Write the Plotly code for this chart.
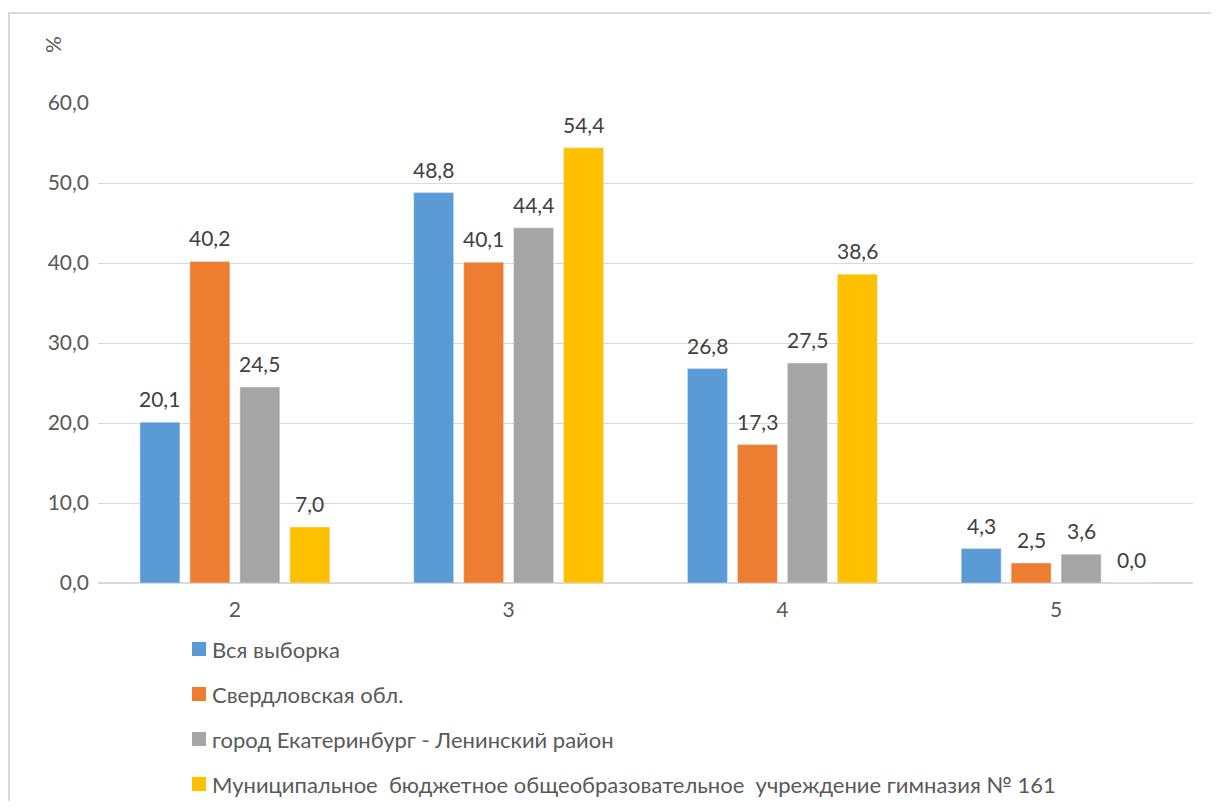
import plotly.graph_objects as go

categories = ["2", "3", "4", "5"]
series_names = [
    "Вся выборка",
    "Свердловская обл.",
    "город Екатеринбург - Ленинский район",
    "Муниципальное  бюджетное общеобразовательное  учреждение гимназия № 161",
]
values_all = [20.1, 48.8, 26.8, 4.3]
values_region = [40.2, 40.1, 17.3, 2.5]
values_city = [24.5, 44.4, 27.5, 3.6]
values_school = [7.0, 54.4, 38.6, 0.0]
colors = ["#5B9BD5", "#ED7D31", "#A5A5A5", "#FFC000"]
tick_vals = [0, 10, 20, 30, 40, 50, 60]

FONT = "Lato"
TXT = "#595959"

# figure is drawn 8px inset by the page's body margin
W, H = 1203, 793
ML, MR, MT, MB = 90, 18, 95, 218
PW, PH = W - ML - MR, H - MT - MB
BARGAP, GROUPGAP = 0.27, 0.2

def px_x(fx):
    return (fx - ML) / PW

def px_y(fy):
    return (H - MB - fy) / PH

all_series = [values_all, values_region, values_city, values_school]
n = len(all_series)
slot = PW / len(categories) * (1 - BARGAP) / n  # pixel width per bar slot

fig = go.Figure()
for i, (name, vals) in enumerate(zip(series_names, all_series)):
    fig.add_trace(go.Bar(
        x=categories, y=vals, name=name, marker_color=colors[i],
        showlegend=False,
    ))
    # value labels, placed above each bar (x = category index on the category axis)
    for j, v in enumerate(vals):
        fig.add_annotation(x=j, y=v, xref="x", yref="y",
                           text=f"{v:.1f}".replace(".", ","),
                           xshift=(i - (n - 1) / 2) * slot, yshift=9,
                           xanchor="center", yanchor="bottom", showarrow=False,
                           font=dict(family=FONT, size=21, color="#404040"))

fig.update_layout(
    width=W, height=H,
    paper_bgcolor="white", plot_bgcolor="white",
    separators=", ",
    barmode="group", bargap=BARGAP, bargroupgap=GROUPGAP,
    margin=dict(l=ML, r=MR, t=MT, b=MB, autoexpand=False),
    font=dict(family=FONT, size=21, color=TXT),
    xaxis=dict(type="category", categoryorder="array", categoryarray=categories,
               range=[-0.5, len(categories) - 0.5],
               showgrid=False, showline=False, ticks="", ticklabelstandoff=12,
               tickfont=dict(size=21, color=TXT)),
    yaxis=dict(range=[0, 60], tickvals=tick_vals, tickformat=".1f",
               showgrid=True, gridcolor="#D9D9D9", gridwidth=1,
               zeroline=True, zerolinecolor="#D9D9D9", zerolinewidth=1.5,
               ticks="", ticklabelstandoff=8, tickfont=dict(size=21, color=TXT)),
    showlegend=False,
)

# custom legend (positions in pixels of the figure)
for i, name in enumerate(series_names):
    cy = 641 + 45 * i
    fig.add_shape(type="rect", xref="paper", yref="paper",
                  x0=px_x(184), x1=px_x(198), y0=px_y(cy + 7), y1=px_y(cy - 7),
                  line=dict(width=0), fillcolor=colors[i])
    fig.add_annotation(text=name, xref="paper", yref="paper",
                       x=px_x(202), y=px_y(cy), xanchor="left", yanchor="middle",
                       showarrow=False, font=dict(family=FONT, size=22, color=TXT))

fig.add_annotation(text="%", xref="paper", yref="paper", x=px_x(45), y=px_y(37),
                   xanchor="center", yanchor="middle",
                   showarrow=False, textangle=-90, font=dict(size=21, color=TXT))

fig.add_shape(type="rect", xref="paper", yref="paper",
              x0=px_x(1), x1=px_x(W + 20), y0=px_y(H + 20), y1=px_y(5),
              line=dict(color="#D9D9D9", width=2), fillcolor="rgba(0,0,0,0)", layer="below")

fig.write_html("out.html")
